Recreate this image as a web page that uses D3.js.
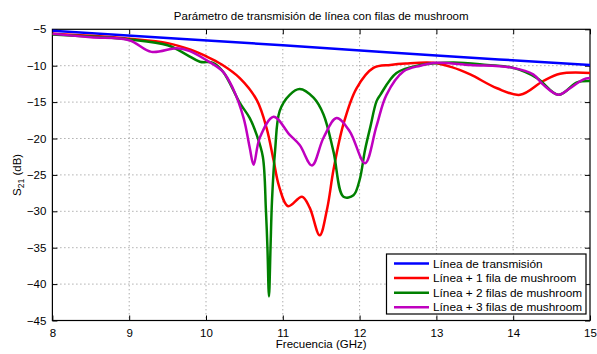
<!DOCTYPE html>
<html><head><meta charset="utf-8">
<script src="https://cdn.jsdelivr.net/npm/d3@7"></script>
<style>body{margin:0;background:#fff}svg{display:block}text{font-family:"Liberation Sans",Arial,sans-serif}</style>
</head><body><svg id="c" width="597" height="354"></svg>
<script>
const xTicks = [8, 9, 10, 11, 12, 13, 14, 15];
const yTicks = [-5, -10, -15, -20, -25, -30, -35, -40, -45];
const seriesNames = ["Línea de transmisión", "Línea + 1 fila de mushroom", "Línea + 2 filas de mushroom", "Línea + 3 filas de mushroom"];
const seriesColors = ["#0000ff", "#ff0000", "#008000", "#bf00bf"];

const blueF = [8, 11, 13, 15];
const blueV = [-5.2, -7.2, -8.6, -9.9];

const redF = [8, 8.5, 9, 9.5, 9.8, 10, 10.2, 10.44, 10.66, 10.79, 10.88, 10.95, 11.07, 11.25, 11.35, 11.48, 11.58, 11.66, 11.79, 11.96, 12.18, 12.4, 12.6, 12.96, 13.2, 13.44, 13.79, 14.09, 14.39, 14.61, 15];
const redV = [-5.6, -5.9, -6.3, -6.9, -7.8, -8.7, -9.8, -11.7, -14.7, -18.6, -23.0, -26.5, -29.3, -28.0, -29.5, -33.3, -29.5, -24.3, -18.0, -13.1, -10.3, -9.9, -9.7, -9.6, -10.2, -11.2, -13.1, -14.0, -12.1, -11.1, -11.0];

const greenF = [8, 8.5, 9, 9.5, 9.75, 9.92, 10.09, 10.22, 10.44, 10.57, 10.66, 10.74, 10.78, 10.80, 10.82, 10.84, 10.86, 10.9, 10.96, 11.09, 11.22, 11.4, 11.53, 11.66, 11.79, 11.92, 12.0, 12.07, 12.14, 12.22, 12.27, 12.48, 12.79, 13.22, 13.66, 14.0, 14.31, 14.59, 14.83, 15];
const greenV = [-5.7, -6.0, -6.4, -7.2, -8.5, -9.45, -9.6, -10.8, -15.1, -17.2, -19.5, -22.5, -29.8, -35.0, -41.7, -35.0, -28.4, -21.6, -16.2, -14.0, -13.2, -14.4, -16.7, -21.8, -28.0, -27.8, -25.7, -21.6, -18.4, -14.9, -14.0, -11.0, -9.9, -9.55, -9.9, -10.3, -11.7, -14.0, -12.3, -12.1];

const magF = [8, 8.5, 9, 9.29, 9.62, 9.79, 10.0, 10.22, 10.35, 10.49, 10.57, 10.62, 10.70, 10.88, 11.09, 11.22, 11.38, 11.53, 11.70, 11.87, 12.07, 12.22, 12.35, 12.57, 12.79, 13.0, 13.44, 14.0, 14.26, 14.39, 14.59, 14.74, 14.91, 15];
const magV = [-5.6, -6.1, -6.5, -8.1, -7.6, -8.0, -9.2, -10.8, -13.1, -17.2, -21.3, -23.6, -19.9, -17.0, -19.5, -20.9, -23.7, -19.9, -17.2, -19.0, -23.4, -18.3, -14.0, -10.8, -10.0, -9.6, -9.9, -10.3, -11.2, -12.6, -14.0, -13.1, -11.9, -11.7];

const seriesF = [blueF, redF, greenF, magF];
const seriesV = [blueV, redV, greenV, magV];

const svg = d3.select("#c");
const L = 52.4, R = 590, T = 29.3, B = 320.5;
const x = d3.scaleLinear().domain([8, 15]).range([L, R]);
const y = d3.scaleLinear().domain([-45, -5]).range([B, T]);

// grid
const g = svg.append("g");
g.selectAll(".gx").data(xTicks.slice(1, -1)).enter().append("line")
  .attr("x1", d => x(d)).attr("x2", d => x(d)).attr("y1", T).attr("y2", B)
  .attr("stroke", "#888").attr("stroke-width", 1).attr("stroke-dasharray", "1,3");
g.selectAll(".gy").data(yTicks.slice(1, -1)).enter().append("line")
  .attr("y1", d => y(d)).attr("y2", d => y(d)).attr("x1", L).attr("x2", R)
  .attr("stroke", "#888").attr("stroke-width", 1).attr("stroke-dasharray", "1,3");

// axes
const xAxis = d3.axisBottom(x).tickValues(xTicks).tickSize(-5).tickPadding(8).tickFormat(d3.format("d"));
const yAxis = d3.axisLeft(y).tickValues(yTicks).tickSize(-5).tickPadding(6).tickFormat(d3.format("d"));
const xa = svg.append("g").attr("transform", `translate(0,${B})`).call(xAxis);
const ya = svg.append("g").attr("transform", `translate(${L},0)`).call(yAxis);
const xt = svg.append("g").attr("transform", `translate(0,${T})`).call(d3.axisTop(x).tickValues(xTicks).tickSize(-5).tickFormat(""));
const yr = svg.append("g").attr("transform", `translate(${R},0)`).call(d3.axisRight(y).tickValues(yTicks).tickSize(-5).tickFormat(""));
[xa, ya, xt, yr].forEach(a => {
  a.select(".domain").remove();
  a.selectAll("line").attr("stroke", "#000");
  a.selectAll("text").attr("font-size", 11.5).attr("fill", "#000").attr("font-family", '"Liberation Sans", Arial, sans-serif');
});
svg.append("rect").attr("x", L).attr("y", T).attr("width", R - L).attr("height", B - T)
  .attr("fill", "none").attr("stroke", "#000").attr("stroke-width", 1.2);

// lines
const line = d3.line().x(d => x(d[0])).y(d => y(d[1])).curve(d3.curveCatmullRom.alpha(0.5));
svg.append("clipPath").attr("id", "pc").append("rect").attr("x", L).attr("y", T - 2).attr("width", R - L).attr("height", B - T + 4);
seriesF.forEach((fs, i) => {
  const pts = fs.map((f, j) => [f, seriesV[i][j]]);
  svg.append("path").attr("d", line(pts)).attr("fill", "none")
    .attr("stroke", seriesColors[i]).attr("stroke-width", 2.5).attr("stroke-linejoin", "round")
    .attr("clip-path", "url(#pc)");
});

// title & labels
svg.append("text").attr("x", (L + R) / 2).attr("y", 20).attr("text-anchor", "middle")
  .attr("font-size", 11.5).text("Parámetro de transmisión de línea con filas de mushroom");
svg.append("text").attr("x", (L + R) / 2).attr("y", 348).attr("text-anchor", "middle")
  .attr("font-size", 11.5).text("Frecuencia (GHz)");
const yl = svg.append("text").attr("transform", `translate(21,${(T + B) / 2}) rotate(-90)`)
  .attr("text-anchor", "middle").attr("font-size", 11.5);
yl.append("tspan").text("S");
yl.append("tspan").attr("font-size", 8.5).attr("dy", 3).text("21");
yl.append("tspan").attr("dy", -3).text(" (dB)");

// legend
const lg = svg.append("g");
lg.append("rect").attr("x", 386.5).attr("y", 254).attr("width", 199.5).attr("height", 60)
  .attr("fill", "#fff").attr("stroke", "#000").attr("stroke-width", 1.2);
seriesNames.forEach((n, i) => {
  const yy = 263.5 + i * 14.6;
  lg.append("line").attr("x1", 394).attr("x2", 429).attr("y1", yy).attr("y2", yy)
    .attr("stroke", seriesColors[i]).attr("stroke-width", 2.5);
  lg.append("text").attr("x", 433).attr("y", yy + 4).attr("font-size", 11.8).text(n);
});
</script></body></html>
